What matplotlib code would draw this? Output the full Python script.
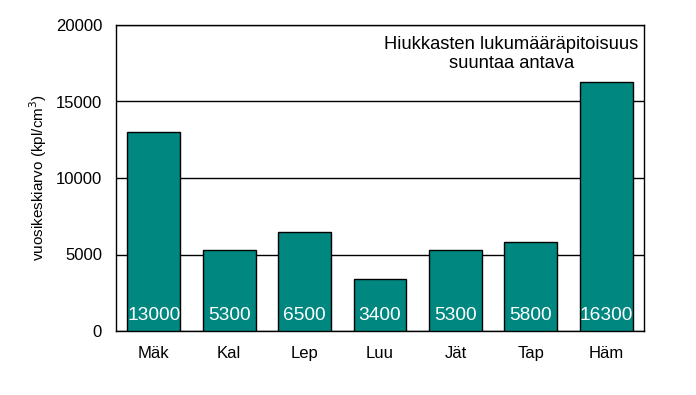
import numpy as np
import matplotlib.pyplot as plt

plt.rcParams['font.family'] = ['Liberation Sans', 'DejaVu Sans']

categories = ['Mäk', 'Kal', 'Lep', 'Luu', 'Jät', 'Tap', 'Häm']
values = [13000, 5300, 6500, 3400, 5300, 5800, 16300]
value_labels = ['13000', '5300', '6500', '3400', '5300', '5800', '16300']

fig = plt.figure(figsize=(6.96, 3.95), dpi=100)
ax = fig.add_axes([116 / 696, 1 - 331 / 395, 528 / 696, 306 / 395])

x = np.arange(len(categories))
ax.bar(x, values, width=0.7, color='#00877F', edgecolor='black', linewidth=1, zorder=3)
for xi, lab in zip(x, value_labels):
    ax.text(xi, 1000, lab, color='white', fontsize=13.8, ha='center', va='center', zorder=4)

ax.set_xlim(-0.5, len(categories) - 0.5)
ax.set_ylim(0, 20000)
ax.set_yticks([0, 5000, 10000, 15000, 20000])
ax.set_xticks(x)
ax.set_xticklabels(categories)
ax.tick_params(axis='both', length=0, labelsize=12)
ax.tick_params(axis='y', pad=10)
ax.tick_params(axis='x', pad=11)
ax.yaxis.grid(True, color='black', linewidth=1, zorder=0)
for s in ax.spines.values():
    s.set_linewidth(1)
ax.set_ylabel('vuosikeskiarvo (kpl/cm$^3$)', fontsize=11, labelpad=5)

ax.text(0.99, 0.965, 'Hiukkasten lukumääräpitoisuus\nsuuntaa antava', transform=ax.transAxes,
        ha='right', va='top', fontsize=13.2, multialignment='center', linespacing=1.2,
        zorder=5)

fig.savefig('out.png', dpi=100)
